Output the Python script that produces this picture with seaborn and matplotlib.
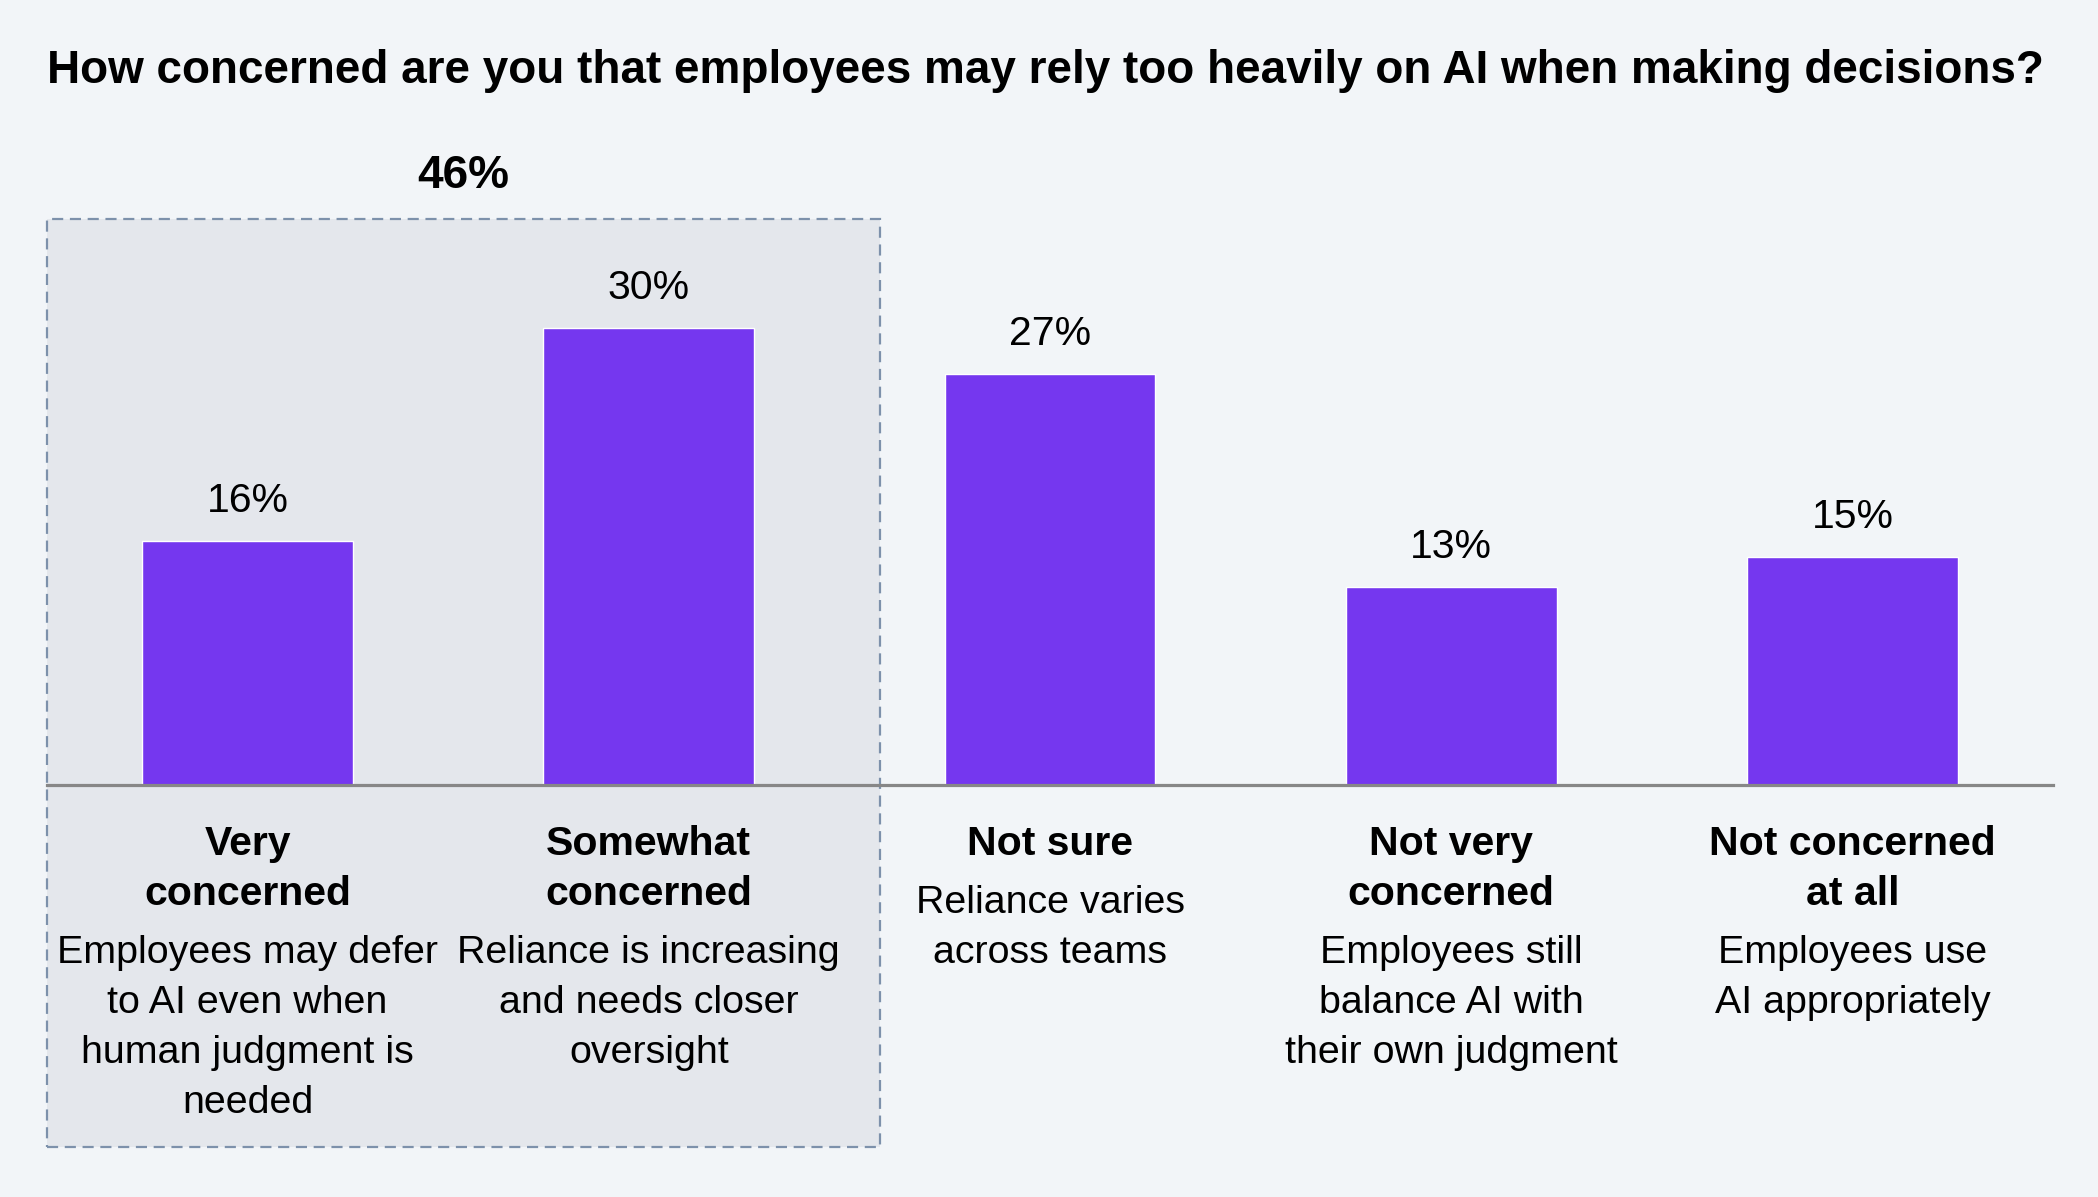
import matplotlib
matplotlib.use("Agg")
import matplotlib.pyplot as plt
from matplotlib.patches import Rectangle
import seaborn as sns
import pandas as pd

# ---- data ----
categories = ["Very concerned", "Somewhat concerned", "Not sure",
              "Not very concerned", "Not concerned at all"]
values = [16, 30, 27, 13, 15]
value_labels = ["16%", "30%", "27%", "13%", "15%"]
cat_lines = [["Very", "concerned"], ["Somewhat", "concerned"], ["Not sure"],
             ["Not very", "concerned"], ["Not concerned", "at all"]]
desc_lines = [["Employees may defer", "to AI even when", "human judgment is", "needed"],
              ["Reliance is increasing", "and needs closer", "oversight"],
              ["Reliance varies", "across teams"],
              ["Employees still", "balance AI with", "their own judgment"],
              ["Employees use", "AI appropriately"]]
group_label = "46%"
title = "How concerned are you that employees may rely too heavily on AI when making decisions?"

# ---- style ----
BG = "#F2F5F8"
BAR = "#7537EF"
BOX_FILL = "#E4E7EC"
BOX_EDGE = "#7D91AB"
AXIS = "#878787"
TXT = "#000000"

sns.set_theme(style="white")
plt.rcParams["font.family"] = ["Liberation Sans", "DejaVu Sans"]

W, H = 2098, 1197
fig = plt.figure(figsize=(W / 100, H / 100), dpi=100, facecolor=BG)

# axes: x from 47 to 2053 px, baseline at 785 px, top at 219 px
base_px, top_px = 785, 219
ax = fig.add_axes([47 / W, (H - base_px) / H, 2006 / W, (base_px - top_px) / H])
ax.set_facecolor("none")

df = pd.DataFrame({"category": categories, "value": values})
sns.barplot(data=df, x="category", y="value", color=BAR, width=0.525,
            saturation=1, ax=ax, zorder=3)

ymax = 37.19
ax.set_xlim(-0.5, 4.5)
ax.set_ylim(0, ymax)
ppu = (base_px - top_px) / ymax  # pixels per unit

for s in ["top", "right", "left"]:
    ax.spines[s].set_visible(False)
ax.spines["bottom"].set_color(AXIS)
ax.spines["bottom"].set_linewidth(2.3)
ax.spines["bottom"].set_zorder(4)
ax.set_xticks([])
ax.set_yticks([])
ax.set_xlabel("")
ax.set_ylabel("")

# dashed group box
box_bottom = -(1147 - base_px) / ppu
rect = Rectangle((-0.5, box_bottom), 1.5 + 0.576, ymax - box_bottom,
                 facecolor=BOX_FILL, edgecolor=BOX_EDGE, linewidth=1.6,
                 linestyle=(0, (5, 3)), clip_on=False, zorder=0)
ax.add_patch(rect)

# group total
ax.text(-0.5 + (2.076) / 2, (base_px - 188) / ppu, group_label, ha="center",
        va="baseline", fontsize=33, fontweight="bold", color=TXT, clip_on=False)

# value labels
for i, (v, lab) in enumerate(zip(values, value_labels)):
    ax.annotate(lab, xy=(i, v), xytext=(0, 29), textcoords="offset pixels",
                ha="center", va="baseline", fontsize=29.5, color=TXT)

# category labels + descriptions
for i in range(len(categories)):
    y = -70
    for k, line in enumerate(cat_lines[i]):
        if k > 0:
            y -= 50
        ax.annotate(line, xy=(i, 0), xytext=(0, y), textcoords="offset pixels",
                    ha="center", va="baseline", fontsize=29.5, fontweight="bold",
                    color=TXT, annotation_clip=False)
    y -= 58
    for k, line in enumerate(desc_lines[i]):
        if k > 0:
            y -= 50
        ax.annotate(line, xy=(i, 0), xytext=(0, y), textcoords="offset pixels",
                    ha="center", va="baseline", fontsize=28.4, color=TXT,
                    annotation_clip=False)

fig.text(47 / W, 1 - 83 / H, title, ha="left", va="baseline",
         fontsize=33, fontweight="bold", color=TXT)

fig.savefig("out.png", dpi=100, facecolor=BG)
